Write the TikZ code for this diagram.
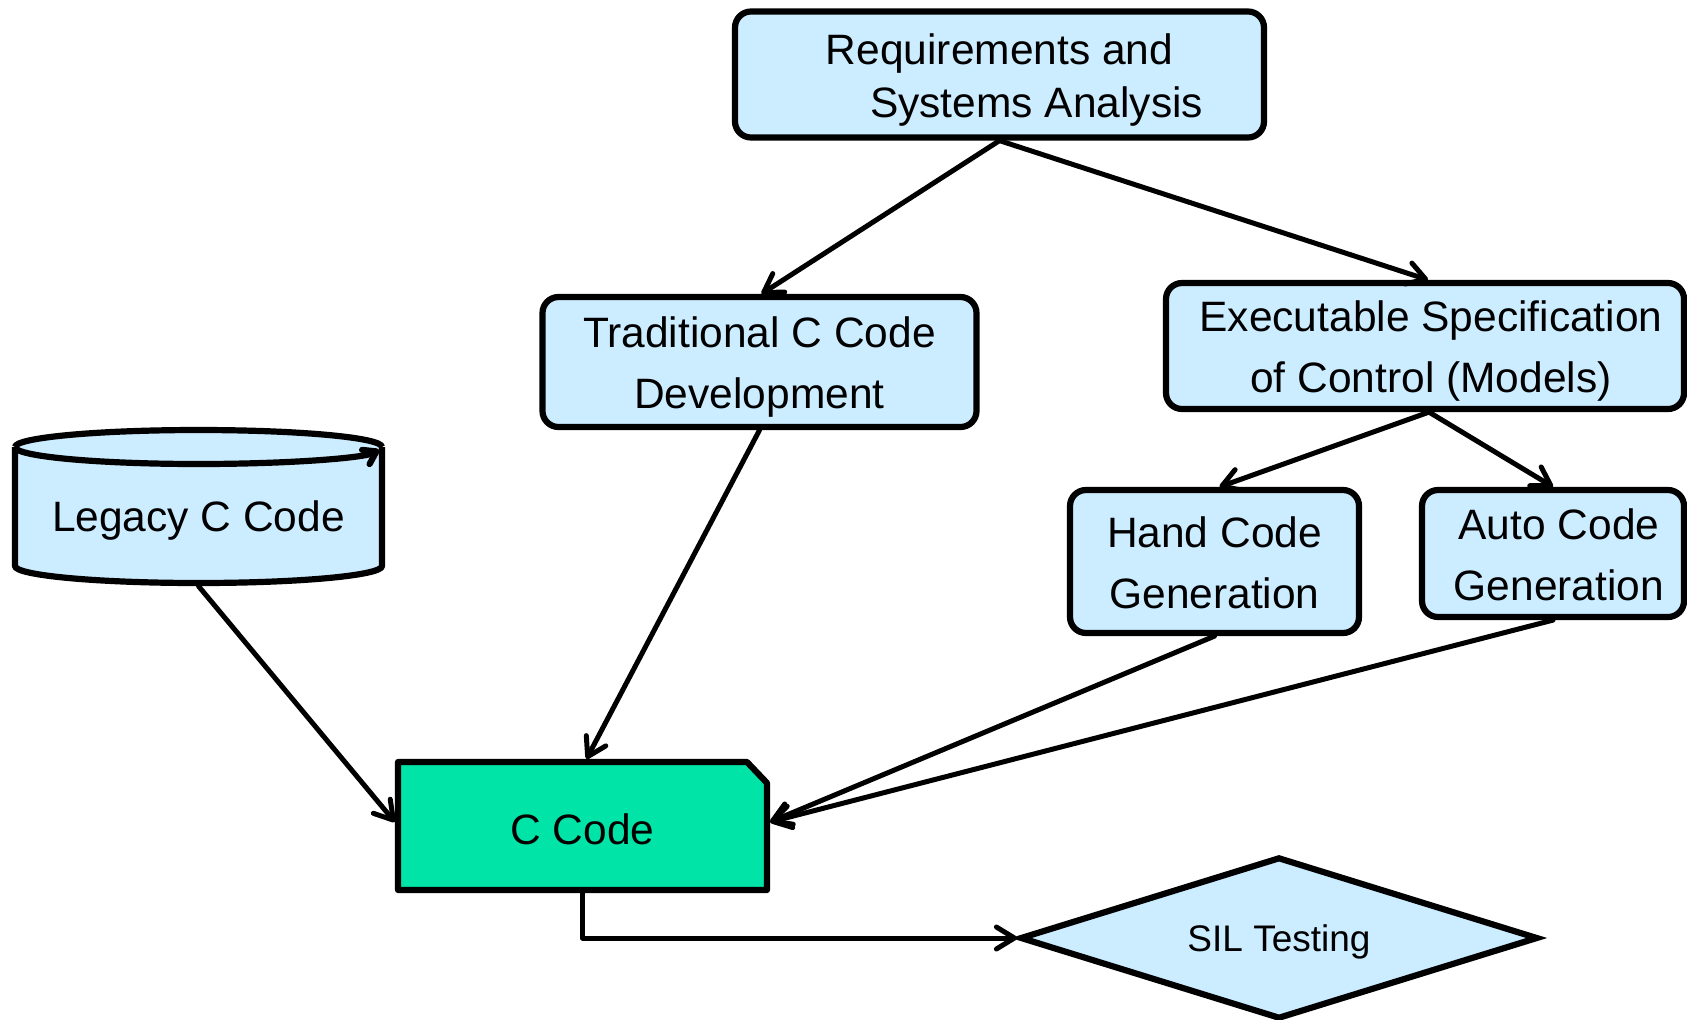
\documentclass[tikz,border=0pt]{standalone}
\usepackage{fontspec}
\setmainfont{Liberation Sans}
\usetikzlibrary{arrows.meta,shapes.geometric,calc}
\definecolor{boxblue}{RGB}{204,236,255}
\definecolor{codegreen}{RGB}{0,228,168}
\newcommand\myup[1]{\rule{0pt}{#1}}
\begin{document}
\begin{tikzpicture}[x=0.5pt,y=-0.5pt,
  mainfont/.style={font=\fontsize{21.25}{30.5}\selectfont},
  box/.style={draw=black, line width=3.1pt, fill=boxblue, rounded corners=8pt,
    inner sep=0pt, align=center, mainfont},
  plain/.style={draw=none, inner sep=0pt, outer sep=1.55pt, align=center, mainfont},
  shapeline/.style={draw=black, line width=3.1pt, line join=round},
  conn/.style={draw=black, line width=2.5pt, line cap=round, line join=round,
    -{Straight Barb[length=9pt,width=11pt,round]}},
]
\useasboundingbox (0,0) rectangle (1687,1019);

% Requirements
\node[box, minimum width=264.5pt, minimum height=63pt,
  font=\fontsize{21.25}{26.5}\selectfont] (req) at (999.5,74.5)
  {\myup{20.7pt}Requirements and\\\hspace*{37pt}Systems Analysis};

% Traditional
\node[box, minimum width=217pt, minimum height=65pt] (trad) at (759.5,362)
  {\myup{20.7pt}Traditional C Code\\Development};

% Executable specification
\node[box, minimum width=259pt, minimum height=63pt] (exec) at (1425,346)
  {\myup{20.7pt}\hspace*{6pt}Executable Specification\\\hspace*{6pt}of Control (Models)};

% Hand / Auto code
\node[box, minimum width=144.5pt, minimum height=71.5pt] (hand) at (1214.5,561.5)
  {\myup{16.5pt}Hand Code\\Generation};
\node[box, minimum width=131pt, minimum height=63.5pt] (auto) at (1553,553.5)
  {\myup{16.5pt}\hspace*{6pt}Auto Code\\\hspace*{6pt}Generation};

% Legacy C code cylinder
\fill[boxblue] (15,447) -- (15,566)
  arc[start angle=180,end angle=360,x radius=91.75pt,y radius=8.5pt]
  -- (382,447)
  arc[start angle=0,end angle=180,x radius=91.75pt,y radius=8.5pt] -- cycle;
\draw[shapeline] (382,447) -- (382,566)
  arc[start angle=360,end angle=180,x radius=91.75pt,y radius=8.5pt] -- (15,447);
\draw[shapeline] (15,447)
  arc[start angle=180,end angle=0,x radius=91.75pt,y radius=8.5pt];
\draw[shapeline, -{Straight Barb[length=6pt,width=8pt,round]}] (15,447)
  arc[start angle=180,end angle=350,x radius=91.75pt,y radius=8.5pt];
\node[plain, minimum width=183.5pt, minimum height=66pt] (legacy) at (198.5,517)
  {\myup{19.1pt}Legacy C Code};

% C Code
\fill[codegreen] (398,762) -- (747,762) -- (767,783) -- (767,890) -- (398,890) -- cycle;
\draw[shapeline] (398,762) -- (747,762) -- (767,783) -- (767,890) -- (398,890) -- cycle;
\node[plain, minimum width=184.5pt, minimum height=64pt] (ccode) at (582.5,826)
  {\myup{19.1pt}C Code};

% SIL Testing
\node[diamond, draw=black, line width=3.1pt, fill=boxblue, shape aspect=3.2,
  minimum width=259pt, minimum height=81pt, inner sep=0pt,
  font=\fontsize{18.5}{22}\selectfont] (dia) at (1279,938) {\myup{17.5pt}SIL Testing};

% connectors
\draw[conn] (req.south) -- ([xshift=1pt]trad.north);
\draw[conn] (req.south) -- ([xshift=1.5pt]exec.north);
\draw[conn] ([xshift=2pt]exec.south) -- ([xshift=2.5pt]hand.north);
\draw[conn] ([xshift=2pt]exec.south) -- (auto.north);
\draw[conn] (trad.south) -- ([xshift=2pt]ccode.north);
\draw[conn] (legacy.south) -- ([yshift=2pt]ccode.west);
\draw[conn] (hand.south) -- ([yshift=2pt]ccode.east);
\draw[conn] (auto.south) -- ([yshift=2pt]ccode.east);
\draw[conn] (ccode.south) |- (dia.west);
\end{tikzpicture}
\end{document}
